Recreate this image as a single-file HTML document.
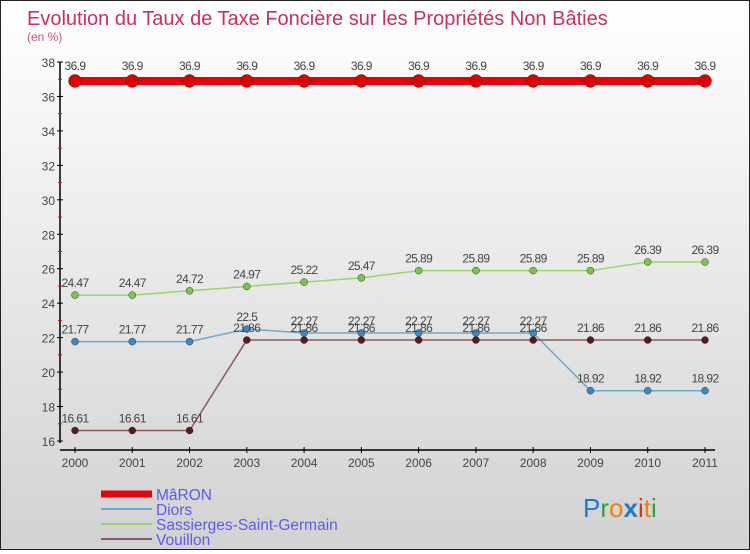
<!DOCTYPE html>
<html><head><meta charset="utf-8"><style>
html,body{margin:0;padding:0}
body{width:750px;height:550px;overflow:hidden;font-family:"Liberation Sans",sans-serif}
#wrap{position:relative;width:748px;height:548px;border:1px solid #222;background:linear-gradient(#fff,#d2d2d2)}
</style></head><body>
<div id="wrap">
<svg id="chart" width="748" height="548" xmlns="http://www.w3.org/2000/svg">
<text x="26" y="24" font-size="20" fill="#c8325a">Evolution du Taux de Taxe Foncière sur les Propriétés Non Bâties</text>
<text x="26" y="40" font-size="12" fill="#c8507a">(en %)</text>
<g id="axes"></g>
<g id="series"></g>
<g id="legend"></g>
<g font-size="26" font-family="Liberation Sans, sans-serif">
<text x="582" y="516"><tspan fill="#1a7ad0">P</tspan><tspan fill="#2ca03c">r</tspan><tspan fill="#f08010">o</tspan><tspan fill="#1a7ad0" font-weight="bold">x</tspan><tspan fill="#e03020">i</tspan><tspan fill="#f08010">t</tspan><tspan fill="#2ca03c">i</tspan></text>
</g>
</svg>
</div>
<script>
const years = [2000,2001,2002,2003,2004,2005,2006,2007,2008,2009,2010,2011];
const yTicks = [16,18,20,22,24,26,28,30,32,34,36,38];
const maronValues = [36.9,36.9,36.9,36.9,36.9,36.9,36.9,36.9,36.9,36.9,36.9,36.9];
const diorsValues = [21.77,21.77,21.77,22.5,22.27,22.27,22.27,22.27,22.27,18.92,18.92,18.92];
const sassiergesValues = [24.47,24.47,24.72,24.97,25.22,25.47,25.89,25.89,25.89,25.89,26.39,26.39];
const vouillonValues = [16.61,16.61,16.61,21.86,21.86,21.86,21.86,21.86,21.86,21.86,21.86,21.86];
const seriesNames = ["MâRON","Diors","Sassierges-Saint-Germain","Vouillon"];

const NS="http://www.w3.org/2000/svg";
const X0=74,X1=704,Y0=440,Y1=61,YMIN=16,YMAX=38;
function xs(i){return X0+(X1-X0)*i/(years.length-1);}
function ys(v){return Y0-(v-YMIN)/(YMAX-YMIN)*(Y0-Y1);}
function mk(tag,attrs,parent){const e=document.createElementNS(NS,tag);for(const k in attrs)e.setAttribute(k,attrs[k]);parent.appendChild(e);return e;}
const axes=document.getElementById('axes');
let a=mk('line',{x1:59,y1:Y1,x2:59,y2:Y0+2,stroke:'#000','stroke-width':1.5},axes);


a=mk('line',{x1:59,y1:449,x2:X1+10,y2:449,stroke:'#000','stroke-width':1.5},axes);


yTicks.forEach(v=>{
  const y=ys(v);
  mk('line',{x1:56,y1:y,x2:62,y2:y,stroke:'#000'},axes);
  if(v<YMAX) mk('line',{x1:57,y1:ys(v+1),x2:61,y2:ys(v+1),stroke:'#e00'},axes);
  const t=mk('text',{x:54,y:y+5,'font-size':12,fill:'#444','text-anchor':'end'},axes);
  t.textContent=v;
  
  
});
years.forEach((yr,i)=>{
  const x=xs(i);
  mk('line',{x1:x,y1:446,x2:x,y2:452,stroke:'#000'},axes);
  const t=mk('text',{x:x,y:466,'font-size':12,fill:'#444','text-anchor':'middle'},axes);
  t.textContent=yr;
  
  
});
const ser=document.getElementById('series');
const defs=[
 {vals:maronValues,color:'#e8000b',dot:'#e00000',w:8,r:6.5,name:'maron'},
 {vals:diorsValues,color:'#6fa8cc',dot:'#3a8ac4',w:1.5,r:3.5,name:'diors'},
 {vals:sassiergesValues,color:'#99d66a',dot:'#78c848',w:1.5,r:3.5,name:'sassierges'},
 {vals:vouillonValues,color:'#8b5a5a',dot:'#5a1a1a',w:1.5,r:3.5,name:'vouillon'}
];
defs.forEach(d=>{
  const pts=d.vals.map((v,i)=>xs(i)+','+ys(v)).join(' ');
  const pl=mk('polyline',{points:pts,fill:'none',stroke:d.color,'stroke-width':d.w},ser);
  
  
  d.vals.forEach((v,i)=>{
    const c=mk('circle',{cx:xs(i),cy:ys(v),r:d.r,fill:d.dot,stroke:'#333','stroke-width':0.5},ser);
    
    
    const t=mk('text',{x:xs(i),y:ys(v)-(d.r>5?11:8),'font-size':12,fill:'#444','text-anchor':'middle','letter-spacing':'-0.6'},ser);
    t.textContent=v;
    
    
  });
});
const lg=document.getElementById('legend');
const lcol=['#e8000b','#6fa8cc','#99d66a','#8b5a5a'];
const lw=[7,2,2,2];
seriesNames.forEach((n,i)=>{
  const y=493+i*15;
  const l=mk('line',{x1:100,y1:y,x2:151,y2:y,stroke:lcol[i],'stroke-width':lw[i]},lg);
  
  
  const t=mk('text',{x:155,y:y+6,'font-size':15.5,fill:'#5a5af0'},lg);
  t.textContent=n;
  
  
});
</script>
</body></html>
